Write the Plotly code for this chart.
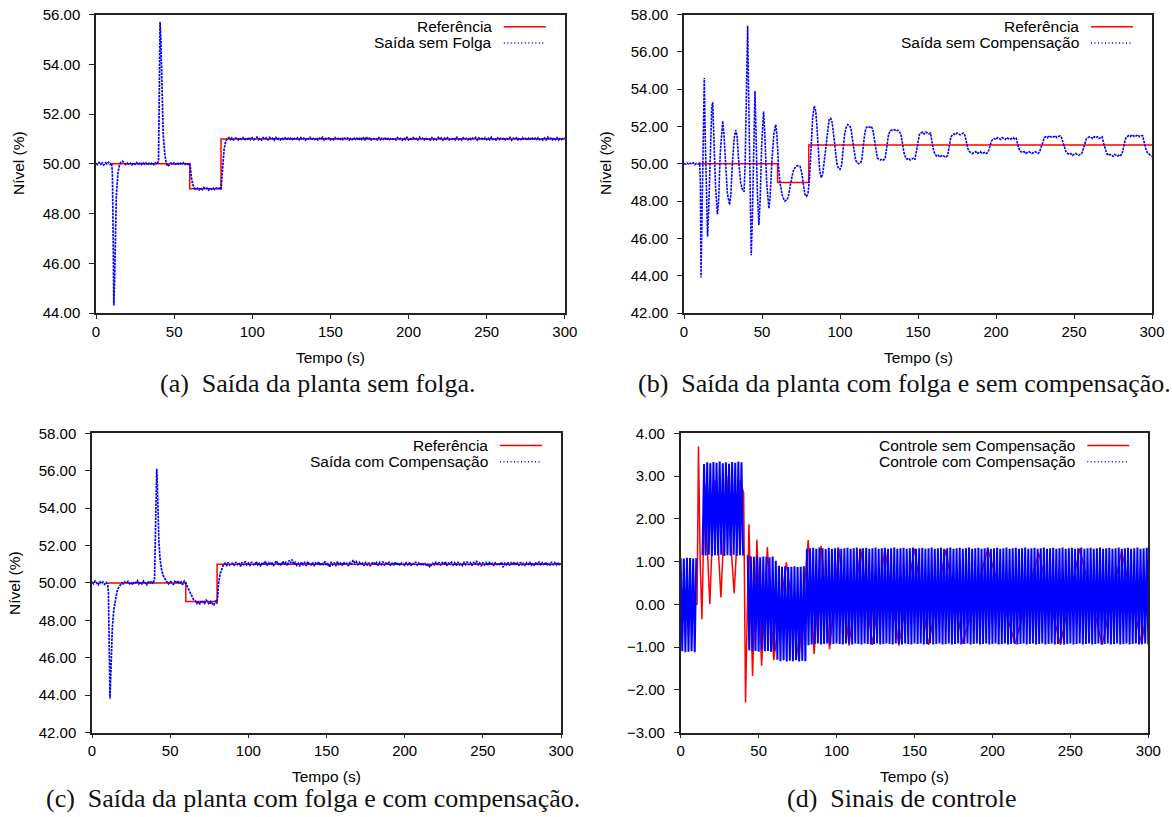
import plotly.graph_objects as go

W, H = 1172, 817

# ---------------- data ----------------
X_TICKS = [0, 50, 100, 150, 200, 250, 300]
A_Y_TICKS = [44, 46, 48, 50, 52, 54, 56]
BC_Y_TICKS = [42, 44, 46, 48, 50, 52, 54, 56, 58]
D_Y_TICKS = [-3, -2, -1, 0, 1, 2, 3, 4]

# reference (set-point) signal
REF_T = [10, 60, 60, 80, 80, 300]
REF_Y = [50, 50, 49, 49, 51, 51]

# uniform sampling of the steady parts / control band
STEADY_START = 90
CTRL_START = 0
SAMPLE_DT = 1

# (a) output without backlash
A_T_TRANS = [0, 1, 2, 3, 4, 5, 6, 7, 8, 9, 10, 10.5, 11, 11.4, 12, 12.5, 13,
             14, 15, 16, 17, 18, 19, 20, 21, 22, 23, 24, 25, 26, 27, 28, 29, 30,
             31, 32, 33, 34, 35, 36, 37, 38, 39, 40, 40.5, 41, 41.5, 42, 42.5, 43,
             44, 45, 46, 47, 48, 49, 50, 51, 52, 53, 54, 55, 56, 57, 58, 59, 60,
             60.5, 61, 62, 63, 64, 65, 66, 67, 68, 69, 70, 71, 72, 73, 74, 75, 76,
             77, 78, 79, 80, 80.5, 81, 82, 83, 84, 85, 86, 87, 88, 89]
A_Y_TRANS = [50.02, 49.96, 50.05, 49.98, 50.03, 49.95, 50.04, 49.99, 50.06, 49.97, 50.03,
             49.6, 47.0, 44.3, 45.6, 47.4, 48.7,
             49.6, 49.95, 50.08, 50.1, 50.04, 49.97, 50.03, 49.96, 50.02, 49.95, 50.04,
             49.98, 50.05, 49.96, 50.02, 49.97, 50.06, 49.98, 50.03, 49.95, 50.02, 49.98,
             50.05, 49.96, 50.03, 49.98, 50.1,
             52.2, 55.7, 55.0, 53.4, 52.1, 51.2,
             50.4, 50.0, 49.9, 49.97, 50.03, 49.96, 50.04, 49.98, 50.05, 49.96, 50.02,
             49.97, 50.04, 49.98, 50.03, 49.97, 50.02,
             49.8,
             49.45, 49.15, 49.02, 48.96, 49.02, 48.95, 49.03, 48.96, 49.04, 48.98, 49.02,
             48.94, 49.03, 48.97, 49.02, 48.96, 49.03, 48.98, 49.02, 48.97,
             49.3,
             49.95, 50.6, 50.9, 51.02, 51.05, 50.97, 51.04, 50.96, 51.03]
A_Y_STEADY = [
    51.02, 50.96, 51.04, 50.98, 51.05, 50.95, 51.03, 50.99, 51.06, 50.97,
    51.04, 50.96, 51.02, 51.07, 50.97, 51.03, 50.95, 51.05, 50.98, 51.04,
    50.96, 51.06, 50.99, 51.03, 50.95, 51.08, 50.97, 51.02, 50.96, 51.05,
    50.98, 51.04, 50.96, 51.03, 50.99, 51.06, 50.95, 51.02, 50.97, 51.04,
    50.96, 51.05, 50.98, 51.03, 50.95, 51.04, 50.99, 51.06, 50.96, 51.02,
    50.97, 51.05, 50.96, 51.03, 50.98, 51.07, 50.95, 51.02, 50.99, 51.04,
    50.96, 51.03, 50.97, 51.05, 50.98, 51.02, 50.95, 51.06, 50.97, 51.03,
    50.99, 51.04, 50.96, 51.02, 50.97, 51.05, 50.98, 51.03, 50.95, 51.06,
    50.97, 51.04, 50.96, 51.08, 50.98, 51.03, 50.95, 51.04, 50.99, 51.02,
    50.96, 51.05, 50.97, 51.03, 50.98, 51.06, 50.95, 51.02, 50.97, 51.04,
    50.99, 51.03, 50.96, 51.05, 50.98, 51.02, 50.95, 51.04, 50.97, 51.06,
    50.96, 51.03, 50.98, 51.05, 50.97, 51.02, 50.95, 51.07, 50.98, 51.03,
    50.96, 51.04, 50.99, 51.02, 50.95, 51.05, 50.97, 51.03, 50.96, 51.06,
    50.98, 51.04, 50.95, 51.03, 50.97, 51.05, 50.96, 51.02, 50.99, 51.04,
    50.96, 51.06, 50.97, 51.03, 50.95, 51.04, 50.98, 51.02, 50.96, 51.05,
    50.97, 51.03, 50.99, 51.06, 50.95, 51.04, 50.98, 51.02, 50.96, 51.05,
    50.97, 51.03, 50.96, 51.07, 50.98, 51.02, 50.95, 51.04, 50.97, 51.03,
    50.99, 51.05, 50.96, 51.02, 50.97, 51.06, 50.95, 51.03, 50.98, 51.04,
    50.96, 51.03, 50.97, 51.05, 50.98, 51.02, 50.95, 51.04, 50.99, 51.06,
    50.96, 51.03, 50.98, 51.05, 50.97, 51.02, 50.95, 51.04, 50.96, 51.07,
    50.98, 51.03, 50.96, 51.04, 50.97, 51.05, 50.95, 51.02, 50.98, 51.04,
    51.01]

# (b) output with backlash, no compensation
B_T_TRANS = [0, 1, 2, 3, 4, 5, 6, 7, 8, 9, 10,
             10.5, 10.9, 11.5, 12.2, 13.0, 13.6, 14.3, 15.1, 15.8, 16.8,
             17.8, 18.4, 19.2, 20.2, 21.4, 22.2, 23.2, 24.2, 24.8, 25.6,
             26.6, 27.8, 29.2, 30.0, 31.0, 32.2, 33.2, 34.0, 35.0, 36.3,
             37.5, 38.5, 39.2, 40.0, 40.8, 41.4, 42.2, 43.1, 43.8, 44.6,
             45.5, 46.2, 47.0, 48.0, 48.8, 49.8, 51.0, 51.8, 53.0, 54.4,
             55.2, 56.4, 57.6, 58.8, 59.6, 60.5, 61.5, 63.0, 64.5, 66.0,
             67.0, 68.5, 70.0, 71.5, 73.0, 74.5, 75.5, 76.5, 77.5, 78.5,
             79.5, 80.5, 81.5, 82.5, 83.5, 84.5, 85.2, 86.0, 87.0, 88.0,
             89.0]
B_Y_TRANS = [50.02, 49.97, 50.04, 49.96, 50.03, 49.98, 50.05, 49.95, 50.02, 49.98, 50.03,
             49.0, 43.9, 46.5, 51.0, 54.6, 51.5, 48.0, 46.1, 47.5, 50.5,
             53.0, 53.3, 51.5, 48.8, 47.3, 48.0, 50.5, 52.0, 52.3, 51.6,
             50.0, 48.4, 47.8, 48.3, 50.0, 51.4, 51.8, 51.5, 50.2, 49.0,
             48.6, 48.5, 50.0, 53.5, 57.4, 54.0, 49.0, 45.1, 47.0, 50.5,
             53.9, 51.5, 48.5, 46.7, 48.0, 51.0, 52.8, 51.6, 49.0, 47.6,
             48.2, 50.2, 51.6, 52.1, 51.5, 50.0, 49.0, 48.3, 48.0, 48.05,
             48.3, 49.0, 49.6, 49.85, 49.9, 49.85, 49.5, 48.9, 48.35, 48.25,
             48.4, 49.3, 51.0, 52.5, 53.1, 52.8, 52.0, 50.8, 49.6, 49.25,
             49.5]
B_Y_STEADY = [
    50.2, 51.0, 51.8, 52.35, 52.45, 52.2, 51.5, 50.6, 50.0, 49.75,
    49.7, 49.9, 50.8, 51.6, 51.95, 52.1, 52.05, 51.9, 51.3, 50.6,
    50.2, 50.05, 50.0, 50.02, 50.2, 51.0, 51.7, 51.95, 52.0, 51.95,
    52.0, 51.85, 51.3, 50.6, 50.3, 50.25, 50.2, 50.25, 50.2, 50.3,
    50.9, 51.5, 51.75, 51.8, 51.78, 51.82, 51.75, 51.8, 51.72, 51.6,
    51.1, 50.6, 50.35, 50.25, 50.3, 50.2, 50.25, 50.3, 50.22, 50.7,
    51.3, 51.6, 51.65, 51.7, 51.6, 51.7, 51.65, 51.6, 51.65, 51.2,
    50.7, 50.5, 50.4, 50.45, 50.35, 50.42, 50.45, 50.38, 50.35, 50.45,
    50.9, 51.4, 51.55, 51.6, 51.55, 51.65, 51.6, 51.55, 51.6, 51.65,
    51.55, 51.1, 50.8, 50.65, 50.6, 50.55, 50.6, 50.65, 50.55, 50.6,
    50.65, 50.55, 50.6, 50.62, 50.55, 50.65, 50.9, 51.2, 51.3, 51.35,
    51.3, 51.4, 51.35, 51.3, 51.4, 51.35, 51.3, 51.4, 51.35, 51.3,
    51.35, 51.4, 51.3, 51.35, 51.0, 50.75, 50.65, 50.6, 50.65, 50.55,
    50.6, 50.65, 50.6, 50.55, 50.6, 50.65, 50.6, 50.55, 50.65, 50.9,
    51.25, 51.4, 51.45, 51.4, 51.5, 51.45, 51.4, 51.45, 51.5, 51.4,
    51.45, 51.5, 51.4, 51.1, 50.8, 50.6, 50.55, 50.5, 50.55, 50.45,
    50.5, 50.55, 50.5, 50.45, 50.5, 50.55, 50.8, 51.15, 51.35, 51.4,
    51.45, 51.4, 51.35, 51.45, 51.4, 51.45, 51.35, 51.4, 51.45, 51.1,
    50.75, 50.55, 50.45, 50.5, 50.45, 50.4, 50.5, 50.45, 50.4, 50.5,
    50.45, 50.6, 51.0, 51.35, 51.45, 51.5, 51.45, 51.55, 51.5, 51.45,
    51.5, 51.55, 51.45, 51.5, 51.5, 51.1, 50.8, 50.6, 50.5, 50.45,
    50.4]

# (c) output with backlash and compensation
C_T_TRANS = [0, 1, 2, 3, 4, 5, 6, 7, 8, 9, 10,
             10.5, 11, 11.5, 12, 12.5, 13,
             14, 15, 16, 17, 18, 19, 20, 21, 22, 23, 24, 25, 26, 27, 28, 29, 30,
             31, 32, 33, 34, 35, 36, 37, 38, 39, 40,
             40.5, 41, 41.4, 41.8, 42.3, 42.8, 43.5, 44.5, 45.5, 46.5, 47.5,
             48, 49, 50, 51, 52, 53, 54, 55, 56, 57, 58, 59, 60,
             61, 62, 63, 64, 65, 66, 67, 68, 69, 70, 71, 72, 73, 74, 75, 76, 77,
             78, 79, 80, 80.5, 81, 82, 83, 84, 85, 86, 87, 88, 89]
C_Y_TRANS = [50.05, 49.95, 50.1, 50.0, 49.9, 50.08, 49.96, 50.05, 49.92, 50.02, 49.95,
             49.5, 46.5, 43.8, 45.0, 46.5, 47.6,
             48.6, 49.2, 49.55, 49.75, 49.9, 50.0, 49.95, 50.05, 49.98, 50.08, 49.95,
             50.02, 49.9, 50.06, 50.0, 50.12, 49.95, 50.05, 49.92, 50.1, 50.0, 49.9,
             50.08, 49.96, 50.1, 49.95, 50.2,
             52.5, 55.5, 56.1, 55.3, 53.5, 52.2, 51.3, 50.7, 50.4, 50.2, 50.1,
             50.05, 49.95, 50.1, 50.0, 49.92, 50.08, 49.98, 50.12, 49.95, 50.05, 49.9,
             50.1, 50.0,
             49.8, 49.6, 49.4, 49.25, 49.1, 49.05, 48.9, 49.0, 48.85, 49.05, 48.95,
             48.9, 49.1, 48.95, 48.85, 49.0, 48.9, 48.8, 49.05, 48.9,
             49.4, 50.0, 50.5, 50.8, 50.95, 51.05, 50.9, 51.1, 50.95, 51.05]
C_Y_STEADY = [
    51.05, 50.92, 51.12, 50.98, 51.08, 50.88, 51.10, 50.95, 51.15, 50.97,
    51.06, 50.90, 51.12, 51.00, 50.93, 51.14, 50.96, 51.05, 50.89, 51.10,
    50.98, 51.16, 50.92, 51.08, 50.95, 51.12, 50.90, 51.06, 51.18, 50.97,
    51.08, 50.93, 51.15, 50.99, 51.10, 50.92, 51.20, 51.05, 51.25, 50.98,
    51.10, 50.94, 51.05, 50.88, 51.12, 50.97, 51.08, 50.91, 51.14, 51.00,
    50.95, 51.10, 50.90, 51.06, 50.97, 51.13, 50.93, 51.08, 50.98, 51.15,
    50.92, 51.05, 50.84, 51.12, 50.96, 51.08, 50.90, 51.14, 50.98, 51.06,
    50.93, 51.10, 50.97, 51.05, 50.91, 51.12, 51.00, 51.22, 51.08, 51.15,
    50.95, 51.10, 50.98, 51.06, 50.92, 51.12, 50.96, 51.08, 50.90, 51.04,
    51.12, 50.96, 51.08, 50.93, 51.10, 50.98, 51.14, 50.94, 51.06, 50.99,
    51.10, 50.92, 51.05, 50.97, 51.12, 50.95, 51.08, 50.93, 51.06, 51.00,
    50.94, 51.08, 50.97, 51.10, 50.92, 51.05, 50.99, 51.12, 50.95, 51.06,
    50.93, 51.08, 50.98, 51.04, 50.90, 51.02, 50.86, 50.95, 51.05, 50.97,
    51.12, 50.96, 51.10, 50.94, 51.08, 50.98, 51.14, 50.92, 51.06, 50.99,
    51.10, 50.95, 51.08, 50.92, 51.12, 50.97, 51.05, 50.93, 51.10, 50.98,
    51.14, 50.96, 51.08, 50.92, 51.12, 50.99, 51.18, 50.95, 51.06, 50.90,
    51.10, 50.96, 51.08, 50.93, 51.12, 50.97, 51.05, 50.91, 51.10, 50.98,
    51.06, 50.94, 51.12, 50.84, 51.05, 50.96, 51.10, 50.92, 51.08, 50.98,
    51.12, 50.95, 51.06, 50.93, 51.10, 50.97, 51.04, 50.91, 51.08, 50.99,
    51.12, 50.95, 51.06, 50.92, 51.10, 50.97, 51.14, 50.94, 51.08, 50.99,
    51.10, 50.93, 51.06, 50.96, 51.12, 50.95, 51.08, 50.97, 51.10, 50.98,
    51.04]

# (d) control signals
D_RED_T = [0, 10.5, 11.0, 11.4, 12.5, 13.6, 14.5, 15.5, 17.0, 18.7,
           20.3, 22.0, 24.0, 25.8, 27.6, 29.5, 32.0, 34.3, 36.3, 38.3,
           40.4, 41.6, 43.8, 46.1, 48.9, 51.9, 55.6, 59.7, 67.8, 75.8,
           81.8, 85.6, 90.1, 95.5, 101.5, 108.0, 115.5, 123.0, 131.0, 140.0,
           150.0, 159.0, 170.0, 181.0, 197.0, 214.6, 229.6, 243.6, 256.0, 270.4,
           282.9, 295.8, 300.0]
D_RED_Y = [0.0, 0.0, 2.0, 3.69, 1.0, -0.35, 1.2, 2.8, 1.4, 0.0,
           1.6, 2.9, 1.4, 0.16, 1.6, 3.0, 1.5, 0.26, 1.6, 2.9,
           2.6, -2.3, 1.87, -1.68, 1.51, -1.44, 1.34, -1.31, 0.98, -1.31,
           1.5, -1.16, 1.37, -1.05, 1.3, -0.97, 1.3, -0.95, 1.3, -0.97,
           1.3, -0.95, 1.27, -0.92, 1.3, -0.93, 1.21, -0.95, 1.3, -0.95,
           1.25, -0.94, 0.2]
D_BLUE_Y = [
    1.08, -1.10, 1.07, -1.12, 1.09, -1.11, 1.08, -1.10, 1.07, -1.12, 1.08,
    None, None, None,
    1.15, 3.28, 1.14, 3.32, 1.16, 3.30, 1.13, 3.33, 1.15, 3.31, 1.14, 3.34, 1.16, 3.30,
    1.13, 3.32, 1.15, 3.29, 1.14, 3.33, 1.16, 3.31, 1.13, 3.34, 1.15, 3.32, 1.14,
    None, None,
    1.15, -1.08, 1.12, -1.10, 1.11, -1.09, 1.12, -1.11, 1.10, -1.08, 1.12, -1.10,
    1.11, -1.09, 1.10, -1.11, 1.12, -1.10,
    1.02, -1.30, 0.90, -1.33, 0.88, -1.31, 0.89, -1.34, 0.87, -1.32,
    0.88, -1.33, 0.89, -1.31, 0.87, -1.34, 0.88, -1.32, 0.89, -1.33,
    1.30, -0.96, 1.31, -0.94, 1.32, -0.93, 1.30, -0.92, 1.33, -0.94,
    1.31, -0.93, 1.29, -0.92, 1.32, -0.94, 1.30, -0.93, 1.31, -0.92,
    1.33, -0.93, 1.30, -0.94, 1.31, -0.92, 1.32, -0.93, 1.30, -0.94,
    1.31, -0.92, 1.33, -0.93, 1.30, -0.94, 1.31, -0.92, 1.32, -0.93,
    1.30, -0.94, 1.31, -0.93, 1.33, -0.92, 1.30, -0.94, 1.31, -0.93,
    1.32, -0.92, 1.30, -0.93, 1.31, -0.94, 1.33, -0.92, 1.30, -0.93,
    1.31, -0.94, 1.32, -0.92, 1.30, -0.93, 1.31, -0.94, 1.33, -0.92,
    1.30, -0.93, 1.31, -0.92, 1.32, -0.94, 1.30, -0.93, 1.31, -0.92,
    1.33, -0.94, 1.30, -0.93, 1.31, -0.92, 1.32, -0.94, 1.30, -0.93,
    1.31, -0.92, 1.33, -0.94, 1.30, -0.93, 1.31, -0.92, 1.32, -0.94,
    1.30, -0.93, 1.31, -0.92, 1.33, -0.94, 1.30, -0.93, 1.31, -0.92,
    1.32, -0.94, 1.30, -0.93, 1.31, -0.92, 1.33, -0.94, 1.30, -0.93,
    1.31, -0.92, 1.32, -0.94, 1.30, -0.93, 1.31, -0.92, 1.33, -0.94,
    1.30, -0.93, 1.31, -0.92, 1.32, -0.94, 1.30, -0.93, 1.31, -0.92,
    1.33, -0.94, 1.30, -0.93, 1.31, -0.92, 1.32, -0.94, 1.30, -0.93,
    1.31, -0.92, 1.33, -0.94, 1.30, -0.93, 1.31, -0.92, 1.32, -0.94,
    1.30, -0.93, 1.31, -0.92, 1.33, -0.94, 1.30, -0.93, 1.31, -0.92,
    1.32, -0.94, 1.30, -0.93, 1.31, -0.92, 1.33, -0.94, 1.30, -0.93,
    1.31, -0.92, 1.32, -0.94, 1.30, -0.93, 1.31, -0.92, 1.33, -0.94,
    1.30, -0.93, 1.31, -0.92, 1.32, -0.94, 1.30, -0.93, 1.31, -0.92,
    1.33, -0.94, 1.30, -0.93, 1.31, -0.92, 1.32, -0.94, 1.30, -0.93,
    1.31, -0.92, 1.33, -0.94, 1.30, -0.93, 1.31, -0.92, 1.32, -0.94]

for a, b in [(A_T_TRANS, A_Y_TRANS), (B_T_TRANS, B_Y_TRANS), (C_T_TRANS, C_Y_TRANS), (D_RED_T, D_RED_Y)]:
    assert len(a) == len(b), (len(a), len(b))


def sample_times(start, n):
    return [start + i * SAMPLE_DT for i in range(n)]


A_T = A_T_TRANS + sample_times(STEADY_START, len(A_Y_STEADY))
A_Y = A_Y_TRANS + A_Y_STEADY
B_T = B_T_TRANS + sample_times(STEADY_START, len(B_Y_STEADY))
B_Y = B_Y_TRANS + B_Y_STEADY
C_T = C_T_TRANS + sample_times(STEADY_START, len(C_Y_STEADY))
C_Y = C_Y_TRANS + C_Y_STEADY
D_BLUE_T = sample_times(CTRL_START, len(D_BLUE_Y))

# ---------------- layout helpers ----------------
RED = "#ff0000"
BLUE = "#0000ff"
TXT = "#000000"
AX = "#222222"
SANS = "Liberation Sans, Arial, sans-serif"
SERIF = "Liberation Serif, Times New Roman, serif"

PANELS = {
    "a": dict(l=96, r=564.8, t=14.5, b=313, yr=[44, 56], yt=A_Y_TICKS),
    "b": dict(l=684, r=1152, t=14.5, b=313, yr=[42, 58], yt=BC_Y_TICKS),
    "c": dict(l=92, r=561, t=433.3, b=732.5, yr=[42, 58], yt=BC_Y_TICKS),
    "d": dict(l=680.7, r=1148.3, t=433.3, b=732.5, yr=[-3, 4], yt=D_Y_TICKS),
}


def fx(p):
    return p / W


def fy(p):
    return 1 - p / H


fig = go.Figure()
layout = dict(width=W, height=H, margin=dict(l=0, r=0, t=0, b=0, pad=0, autoexpand=False),
              paper_bgcolor="white", plot_bgcolor="white", showlegend=False,
              font=dict(family=SANS, size=15, color=TXT))
annotations = []
shapes = []

for i, (key, p) in enumerate(PANELS.items()):
    n = "" if i == 0 else str(i + 1)
    layout["xaxis" + n] = dict(
        domain=[fx(p["l"]), fx(p["r"])], range=[0, 300], tickvals=X_TICKS,
        anchor="y" + n, showline=True, mirror=True, linecolor=AX, linewidth=1.5,
        ticks="outside", ticklen=4, tickcolor=AX, tickwidth=1.2, showgrid=False,
        zeroline=False, automargin=False,
        tickfont=dict(family=SANS, size=15, color=TXT), ticklabelstandoff=0)
    layout["yaxis" + n] = dict(
        domain=[fy(p["b"]), fy(p["t"])], range=p["yr"], tickvals=p["yt"],
        tickformat=".2f", anchor="x" + n, showline=True, mirror=True,
        linecolor=AX, linewidth=1.5, ticks="outside", ticklen=5, tickcolor=AX,
        tickwidth=1.2, showgrid=False, zeroline=False, automargin=False,
        tickfont=dict(family=SANS, size=15, color=TXT), ticklabelstandoff=6)
    # x axis title
    annotations.append(dict(text="Tempo (s)", xref="paper", yref="paper",
                            x=fx((p["l"] + p["r"]) / 2), y=fy(p["b"] + 44),
                            showarrow=False, xanchor="center", yanchor="middle",
                            font=dict(family=SANS, size=15.5, color=TXT)))

# y axis titles
for xp, yp in [(18, 163), (605, 163), (14, 583)]:
    annotations.append(dict(text="Nível (%)", xref="paper", yref="paper",
                            x=fx(xp), y=fy(yp), textangle=-90, showarrow=False,
                            xanchor="center", yanchor="middle",
                            font=dict(family=SANS, size=15.5, color=TXT)))

# captions
CAPTIONS = [
    ("(a)\u2002Saída da planta sem folga.", 317.5, 383),
    ("(b)\u2002Saída da planta com folga e sem compensação.", 904, 383),
    ("(c)\u2002Saída da planta com folga e com compensação.", 313, 798),
    ("(d)\u2002Sinais de controle", 901.6, 798),
]
for txt, xp, yp in CAPTIONS:
    annotations.append(dict(text=txt, xref="paper", yref="paper", x=fx(xp), y=fy(yp),
                            showarrow=False, xanchor="center", yanchor="middle",
                            font=dict(family=SERIF, size=26, color="#111111")))

# legends (gnuplot style: text right-aligned, sample on the right)
LEGENDS = {
    "a": [("Referência", RED, "solid"), ("Saída sem Folga", BLUE, "1px,2.5px")],
    "b": [("Referência", RED, "solid"), ("Saída sem Compensação", BLUE, "1px,2.5px")],
    "c": [("Referência", RED, "solid"), ("Saída com Compensação", BLUE, "1px,2.5px")],
    "d": [("Controle sem Compensação", RED, "solid"), ("Controle com Compensação", BLUE, "1px,2.5px")],
}
for key, entries in LEGENDS.items():
    p = PANELS[key]
    for j, (txt, col, dash) in enumerate(entries):
        yp = p["t"] + 12.2 + j * 16.3
        annotations.append(dict(text=txt, xref="paper", yref="paper",
                                x=fx(p["r"] - 71), y=fy(yp), showarrow=False,
                                xanchor="right", yanchor="middle",
                                font=dict(family=SANS, size=15.5, color=TXT)))
        shapes.append(dict(type="line", xref="paper", yref="paper",
                           x0=fx(p["r"] - 61), x1=fx(p["r"] - 19), y0=fy(yp), y1=fy(yp),
                           line=dict(color=col, width=1.5 if dash == "solid" else 1.4,
                                     dash=dash)))

layout["annotations"] = annotations
layout["shapes"] = shapes

OUT_DASH = "2.5px,1px"

# (a)
fig.add_trace(go.Scatter(x=REF_T, y=REF_Y, mode="lines", name="Referência",
                         line=dict(color=RED, width=1.5), xaxis="x", yaxis="y"))
fig.add_trace(go.Scatter(x=A_T, y=A_Y, mode="lines", name="Saída sem Folga",
                         line=dict(color=BLUE, width=1.7, dash=OUT_DASH), xaxis="x", yaxis="y"))
# (b)
fig.add_trace(go.Scatter(x=REF_T, y=REF_Y, mode="lines", name="Referência",
                         line=dict(color=RED, width=1.5), xaxis="x2", yaxis="y2"))
fig.add_trace(go.Scatter(x=B_T, y=B_Y, mode="lines", name="Saída sem Compensação",
                         line=dict(color=BLUE, width=1.6, dash=OUT_DASH), xaxis="x2", yaxis="y2"))
# (c)
fig.add_trace(go.Scatter(x=REF_T, y=REF_Y, mode="lines", name="Referência",
                         line=dict(color=RED, width=1.5), xaxis="x3", yaxis="y3"))
fig.add_trace(go.Scatter(x=C_T, y=C_Y, mode="lines", name="Saída com Compensação",
                         line=dict(color=BLUE, width=1.7, dash=OUT_DASH), xaxis="x3", yaxis="y3"))
# (d)
fig.add_trace(go.Scatter(x=D_RED_T, y=D_RED_Y, mode="lines", name="Controle sem Compensação",
                         line=dict(color=RED, width=1.5), xaxis="x4", yaxis="y4"))
fig.add_trace(go.Scatter(x=D_BLUE_T, y=D_BLUE_Y, mode="lines", name="Controle com Compensação",
                         connectgaps=False,
                         line=dict(color=BLUE, width=2.0), xaxis="x4", yaxis="y4"))

fig.update_layout(**layout)
fig.write_html("out.html")
